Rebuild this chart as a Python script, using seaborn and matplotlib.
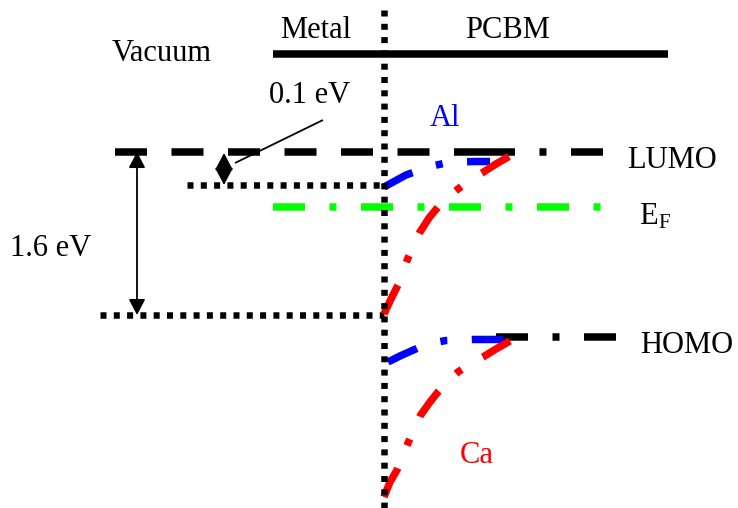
import matplotlib
matplotlib.use("Agg")
import matplotlib.pyplot as plt
import seaborn as sns

sns.set_theme(style="white")
plt.rcParams["font.family"] = ["Liberation Serif", "DejaVu Serif"]
plt.rcParams["text.color"] = "black"
plt.rcParams["lines.scale_dashes"] = False

# ---- data (diagram units: x = position, y = energy position, top = vacuum) ----
vacuum_x = [273, 668]
vacuum_y = [54, 54]
interface_x = [384, 384]
interface_y = [10, 508]
lumo_left_x = [115, 483]
lumo_right_x = [483, 604]
lumo_y = 152
homo_x = [496, 617]
homo_y = 337
ef_x = [273, 602]
ef_y = 207
al_fermi_x = [187, 384]
al_fermi_y = 185
ca_fermi_x = [100, 384]
ca_fermi_y = 315

al_lumo_x = [384, 395, 406, 420, 432, 446, 460, 475, 490]
al_lumo_y = [187, 181, 175, 170, 166, 163, 162, 161.5, 161.5]
al_homo_x = [388, 400, 418, 432, 446, 460, 473, 490, 507]
al_homo_y = [362, 356, 348, 343, 340.5, 340, 339.5, 339.5, 339.5]
ca_lumo_x = [384, 391, 398, 408, 420, 429, 438, 448, 458, 470, 482, 496, 510]
ca_lumo_y = [314, 299, 285, 258, 232, 218, 207, 197, 189, 180, 173, 164, 156]
ca_homo_x = [384, 390, 397, 408, 420, 430, 438, 448, 458, 470, 483, 496, 510]
ca_homo_y = [497, 482, 470, 443, 416, 402, 392, 381, 372, 364, 357, 349, 341]

BLACK, BLUE, RED, GREEN = "#000000", "#0000ff", "#ff0000", "#00ff00"

px = 0.72  # 1 px in points at 100 dpi
DASH = (0, (32 * px, 24.5 * px))
DASHDOT = (0, (32 * px, 24.5 * px, 7 * px, 24.5 * px))
DOT = (0, (6 * px, 7.3 * px))

fig = plt.figure(figsize=(7.38, 5.08), dpi=100)
ax = fig.add_axes([0, 0, 1, 1])
ax.set_xlim(0, 738)
ax.set_ylim(508, 0)
ax.axis("off")


def line(x, y, color, lw_px, ls, cap="butt"):
    sns.lineplot(x=x, y=y, ax=ax, color=color, linewidth=lw_px * px,
                 linestyle=ls, sort=False, estimator=None, legend=False)
    ln = ax.lines[-1]
    ln.set_dash_capstyle(cap)
    ln.set_solid_capstyle(cap)
    return ln


# vacuum level
line(vacuum_x, vacuum_y, BLACK, 7.5, "-")
# LUMO / HOMO / EF
line(lumo_left_x, [lumo_y] * 2, BLACK, 7.5, DASH)
line(lumo_right_x, [lumo_y] * 2, BLACK, 7.5, DASHDOT)
line(homo_x, [homo_y] * 2, BLACK, 7.5, DASHDOT)
line(ef_x, [ef_y] * 2, GREEN, 7.5, DASHDOT)
# metal levels
line(al_fermi_x, [al_fermi_y] * 2, BLACK, 6.5, DOT)
line(ca_fermi_x, [ca_fermi_y] * 2, BLACK, 6.5, DOT)
# band bending
line(al_lumo_x, al_lumo_y, BLUE, 7.5, DASHDOT)
line(al_homo_x, al_homo_y, BLUE, 7.5, DASHDOT)
line(ca_lumo_x, ca_lumo_y, RED, 7.5, DASHDOT)
line(ca_homo_x, ca_homo_y, RED, 7.5, DASHDOT)
# interface
line(interface_x, interface_y, BLACK, 6.5, DOT)

# arrows
ax.annotate("", xy=(137, lumo_y), xytext=(137, ca_fermi_y),
            arrowprops=dict(arrowstyle="<|-|>,head_length=0.95,head_width=0.5",
                            mutation_scale=10, lw=1.3, color="black",
                            shrinkA=0, shrinkB=0))
ax.annotate("", xy=(224, lumo_y + 1), xytext=(224, al_fermi_y),
            arrowprops=dict(arrowstyle="<|-|>,head_length=1.05,head_width=0.55",
                            mutation_scale=10, lw=1.3, color="black",
                            shrinkA=0, shrinkB=0))
line([235, 323], [163, 120], BLACK, 1.8, "-")

FS = 22
ax.text(162, 61, "Vacuum", ha="center", va="baseline", fontsize=FS)
ax.text(316, 38, "Metal", ha="center", va="baseline", fontsize=FS)
ax.text(508, 38, "PCBM", ha="center", va="baseline", fontsize=FS)
ax.text(310, 103, "0.1 eV", ha="center", va="baseline", fontsize=FS)
ax.text(445, 126, "Al", ha="center", va="baseline", fontsize=FS, color=BLUE)
ax.text(627, 168, "LUMO", ha="left", va="baseline", fontsize=FS)
ax.text(639, 224, "E", ha="left", va="baseline", fontsize=FS)
ax.text(658, 228, "F", ha="left", va="baseline", fontsize=15)
ax.text(10, 256, "1.6 eV", ha="left", va="baseline", fontsize=FS)
ax.text(640, 353, "HOMO", ha="left", va="baseline", fontsize=FS)
ax.text(460, 463, "Ca", ha="left", va="baseline", fontsize=FS, color=RED)

fig.savefig("out.png", dpi=100)
